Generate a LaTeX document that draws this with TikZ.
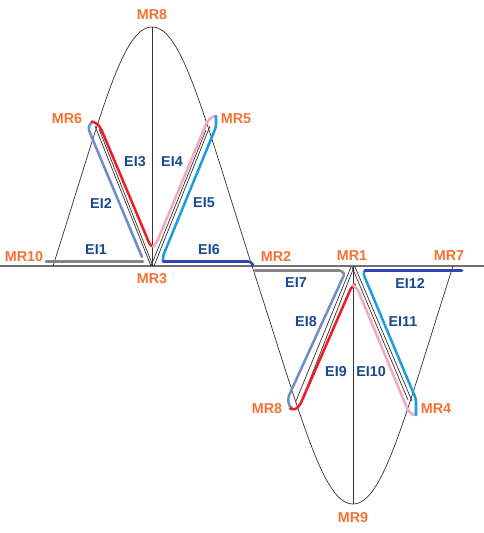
\documentclass[tikz,border=0pt]{standalone}
\usepackage{fontspec}
\setmainfont{Liberation Sans}
\usepackage{xcolor}
\usepackage{tikz}
\usetikzlibrary{calc}
\definecolor{mrorange}{HTML}{F37335}
\definecolor{eiblue}{HTML}{174A8E}
\definecolor{axgrey}{HTML}{707070}
\definecolor{elgrey}{HTML}{858585}
\definecolor{elsteel}{HTML}{6D8FC7}
\definecolor{elred}{HTML}{EE1C24}
\definecolor{elpink}{HTML}{F5A7C0}
\definecolor{elsky}{HTML}{1E9BE3}
\definecolor{elnavy}{HTML}{3442B8}

\begin{document}
\begin{tikzpicture}[
  x=0.25mm,y=-0.25mm,
  mr/.style={text=mrorange,font=\fontsize{10.2}{12}\selectfont\bfseries,inner sep=0pt},
  ei/.style={text=eiblue,font=\fontsize{10.2}{12}\selectfont\bfseries,inner sep=0pt},
  thin line/.style={draw=black!80,line width=0.5pt},
  elem/.style={line width=1.8pt,rounded corners=2pt,line cap=round}]
  \useasboundingbox (0,0) rectangle (484,533);
  % points of the curve
  \coordinate (mr10) at (53,266);
  \coordinate (mr6) at (97,128);
  \coordinate (mr8t) at (152,27);
  \coordinate (mr5) at (207,128);
  \coordinate (mr3) at (152,266);
  \coordinate (mr2) at (252,266);
  \coordinate (mr1) at (353,266);
  \coordinate (mr8b) at (297,404);
  \coordinate (mr9) at (353,504);
  \coordinate (mr4) at (409,404);
  \coordinate (mr7) at (453,266);
  % axis and curve
  \draw[axgrey,line width=0.8pt] (0,266) -- (484,266);
  \draw[thin line] (mr10) .. controls (102,113) and (122,27) .. (mr8t)
    .. controls (182,27) and (203,113) .. (mr2)
    .. controls (302,419) and (323,504) .. (mr9)
    .. controls (383,504) and (404,419) .. (mr7);
  \draw[thin line] (mr8t) -- (mr3);
  \draw[thin line] (mr1) -- (mr9);
  % triangle sides
  \draw[thin line] (95,126) -- (151,266);
  \draw[thin line] (99,129) -- (153,266);
  \draw[thin line] (210,126) -- (154,266);
  \draw[thin line] (206,130) -- (151,266);
  \draw[thin line] (296,401) -- (351,267);
  \draw[thin line] (300,405) -- (354,267);
  \draw[thin line] (408,400) -- (352,267);
  \draw[thin line] (412,401) -- (355,267);
  % elements
  \draw[elem,elgrey] (46,261.5) -- (143,261.5);
  \draw[elem,elsteel] (142,257) -- (90,133) -- (88,127) -- (92,122);
  \draw[elem,elred] (92,121.5) -- (98,124) -- (102,131) -- (150,245) -- (153,246.5);
  \draw[elem,elpink] (153,246.5) -- (157,242) -- (207,122) -- (211.5,117) -- (215.5,116);
  \draw[elem,elsky] (216,116) -- (216,127) -- (163,256) -- (163,261);
  \draw[elem,elnavy] (163,261.5) -- (251,261.5) -- (253,265);
  \draw[elem,elgrey] (255,270.5) -- (342,270.5) -- (344,274);
  \draw[elem,elsteel] (344,275) -- (291,391) -- (288,398) -- (289,406) -- (292,408);
  \draw[elem,elred] (290,408.5) -- (295,410) -- (300,405) -- (351.5,287) -- (355,284.5);
  \draw[elem,elpink] (353,285) -- (358,290) -- (407,408) -- (410,413) -- (414,415);
  \draw[elem,elsky] (416,415) -- (416,399) -- (413,392) -- (363,273) -- (365,270.5);
  \draw[elem,elnavy] (365,270.5) -- (462,270.5);
  % labels of the points
  \node[mr] (lmr8t) at (152,15) {MR8};
  \node[mr] (lmr6) at (67,119) {MR6};
  \node[mr] (lmr5) at (236,119) {MR5};
  \node[mr] (lmr10) at (24,257) {MR10};
  \node[mr] (lmr3) at (152,279) {MR3};
  \node[mr] (lmr2) at (276,256) {MR2};
  \node[mr] (lmr1) at (352,256) {MR1};
  \node[mr] (lmr7) at (449,256) {MR7};
  \node[mr] (lmr8b) at (267,409) {MR8};
  \node[mr] (lmr4) at (436,409) {MR4};
  \node[mr] (lmr9) at (353,518) {MR9};
  % labels of the elements
  \node[ei] (ei1) at (96,250) {EI1};
  \node[ei] (ei2) at (101,203) {EI2};
  \node[ei] (ei3) at (135,162) {EI3};
  \node[ei] (ei4) at (172,162) {EI4};
  \node[ei] (ei5) at (204,203) {EI5};
  \node[ei] (ei6) at (209,250) {EI6};
  \node[ei] (ei7) at (296,283) {EI7};
  \node[ei] (ei8) at (306,322) {EI8};
  \node[ei] (ei9) at (336,372) {EI9};
  \node[ei] (ei10) at (371,372) {EI10};
  \node[ei] (ei11) at (403,322) {EI11};
  \node[ei] (ei12) at (410,283) {EI12};
\end{tikzpicture}
\end{document}
